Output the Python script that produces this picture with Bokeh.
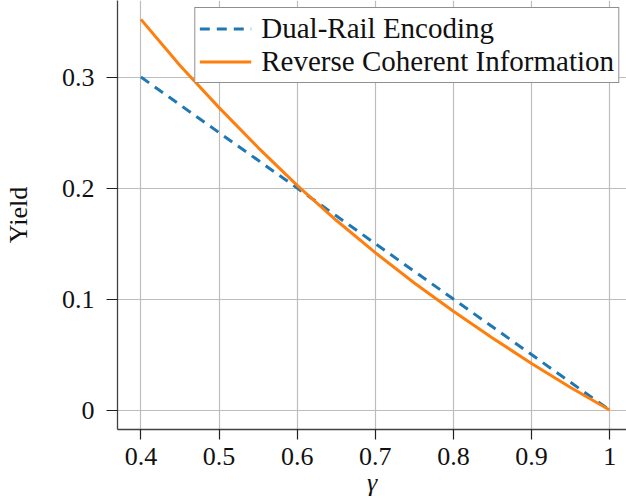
from bokeh.plotting import figure
from bokeh.models import Range1d, FixedTicker, Legend, LegendItem
from bokeh.embed import file_html
from bokeh.resources import INLINE

gamma = [0.40, 0.45, 0.50, 0.55, 0.60, 0.65, 0.70, 0.75, 0.80, 0.85, 0.90, 0.95, 1.00]
dual_rail = [0.300, 0.275, 0.250, 0.225, 0.200, 0.175, 0.150, 0.125, 0.100, 0.075, 0.050, 0.025, 0.000]
reverse_ci = [0.3520, 0.3105, 0.2725, 0.2365, 0.2025, 0.1710, 0.1418, 0.1145, 0.0890,
              0.0650, 0.0420, 0.0203, 0.0000]

x_ticks = [0.4, 0.5, 0.6, 0.7, 0.8, 0.9, 1.0]
x_tick_labels = {0.4: "0.4", 0.5: "0.5", 0.6: "0.6", 0.7: "0.7", 0.8: "0.8", 0.9: "0.9", 1.0: "1"}
y_ticks = [0.0, 0.1, 0.2, 0.3]
y_tick_labels = {0.0: "0", 0.1: "0.1", 0.2: "0.2", 0.3: "0.3"}

FONT = "Liberation Serif"

p = figure(width=626, height=499, output_backend="svg", toolbar_location=None,
           x_range=Range1d(0.370, 1.0216), y_range=Range1d(-0.0175, 0.369))
p.min_border_left = 114
p.min_border_right = 0
p.min_border_top = 0
p.min_border_bottom = 70
p.outline_line_color = None
p.background_fill_color = "white"
p.border_fill_color = "white"

for ax in (p.xaxis[0], p.yaxis[0]):
    ax.axis_line_color = "#404040"
    ax.axis_line_width = 1.3
    ax.major_tick_line_color = "#202020"
    ax.major_tick_line_width = 1.2
    ax.major_tick_in = 0
    ax.minor_tick_line_color = None
    ax.major_label_text_font = FONT
    ax.major_label_text_font_size = "26px"
    ax.major_label_text_color = "#111111"
    ax.axis_label_text_font = FONT
    ax.axis_label_text_font_style = "normal"
    ax.axis_label_text_font_size = "26px"
    ax.axis_label_text_color = "#111111"

p.xaxis.ticker = FixedTicker(ticks=x_ticks)
p.xaxis.major_label_overrides = x_tick_labels
p.xaxis.major_tick_out = 10
p.xaxis.major_label_standoff = 8
p.xaxis.axis_label = "γ"
p.xaxis.axis_label_text_font_style = "italic"
p.xaxis.axis_label_standoff = 0

p.yaxis.ticker = FixedTicker(ticks=y_ticks)
p.yaxis.major_label_overrides = y_tick_labels
p.yaxis.major_tick_out = 11
p.yaxis.major_label_standoff = 12
p.yaxis.axis_label = "Yield"
p.yaxis.axis_label_standoff = 26

p.xgrid.ticker = FixedTicker(ticks=x_ticks)
p.ygrid.ticker = FixedTicker(ticks=y_ticks)
for g in (p.xgrid[0], p.ygrid[0]):
    g.grid_line_color = "#bdbdbd"
    g.grid_line_width = 1.2

r1 = p.line(gamma, dual_rail, line_color="#1f77b4", line_width=3, line_dash="10 7")
r2 = p.line(gamma, reverse_ci, line_color="#ff7f0e", line_width=3)

legend = Legend(items=[LegendItem(label="Dual-Rail Encoding", renderers=[r1]),
                       LegendItem(label="Reverse Coherent Information", renderers=[r2])],
                location="top_right")
legend.label_text_font = FONT
legend.label_text_font_size = "29px"
legend.label_text_color = "#111111"
legend.border_line_color = "#222222"
legend.border_line_width = 1.5
legend.background_fill_alpha = 1.0
legend.glyph_width = 52
legend.glyph_height = 29
legend.label_height = 29
legend.label_standoff = 10
legend.spacing = 0
legend.padding = 4
legend.margin = 7
p.add_layout(legend)

open("out.html", "w").write(file_html(p, INLINE))
